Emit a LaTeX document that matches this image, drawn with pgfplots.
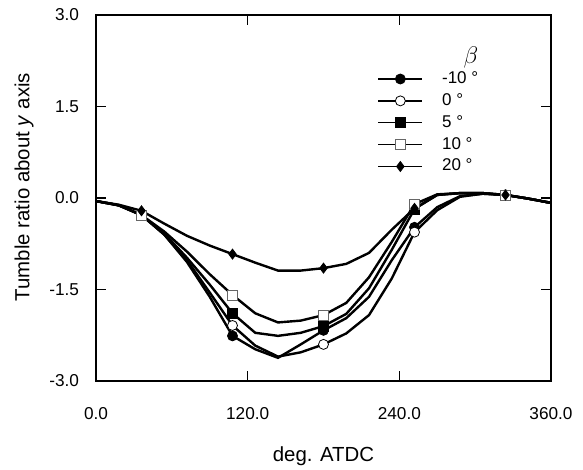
\documentclass[border=0pt]{standalone}
\usepackage{pgfplots}
\usepackage{pgfplotstable}
\pgfplotsset{compat=1.18}
\usepackage{fontspec}
\setmainfont{Liberation Sans}

\pgfplotstableread{
x    m10    z0     p5     p10    p20
0    -0.05  -0.05  -0.05  -0.05  -0.05
18   -0.12  -0.12  -0.12  -0.12  -0.11
36   -0.28  -0.28  -0.28  -0.28  -0.21
54   -0.60  -0.60  -0.58  -0.55  -0.42
72   -1.05  -1.02  -0.98  -0.88  -0.62
90   -1.62  -1.55  -1.42  -1.25  -0.78
108  -2.26  -2.09  -1.89  -1.59  -0.92
126  -2.48  -2.42  -2.21  -1.89  -1.06
144  -2.62  -2.60  -2.26  -2.04  -1.19
162  -2.40  -2.53  -2.21  -2.01  -1.19
180  -2.17  -2.40  -2.10  -1.92  -1.15
198  -1.97  -2.22  -1.90  -1.72  -1.08
216  -1.62  -1.92  -1.48  -1.30  -0.90
234  -1.02  -1.32  -0.85  -0.72  -0.52
252  -0.48  -0.56  -0.18  -0.10  -0.17
270  -0.15  -0.20  0.05   0.06   0.05
288  0.03   0.02   0.08   0.08   0.08
306  0.07   0.07   0.08   0.08   0.08
324  0.05   0.05   0.05   0.05   0.05
342  -0.01  -0.01  -0.01  -0.01  -0.01
360  -0.08  -0.08  -0.08  -0.08  -0.08
}\data

\begin{document}
\begin{tikzpicture}
\path[use as bounding box] (-48pt,-44.5pt) rectangle (243.5pt,190.5pt);
\begin{axis}[
  scale only axis, width=227.5pt, height=183pt,
  xmin=0, xmax=360, ymin=-3, ymax=3,
  xtick={0,120,240,360}, ytick={-3,-1.5,0,1.5,3},
  tick align=inside, major tick length=5pt,
  axis line style={line width=0.6pt},
  every tick/.style={line width=0.6pt, black},
  /pgf/number format/fixed,
  /pgf/number format/fixed zerofill,
  /pgf/number format/precision=1,
  /pgf/number format/assume math mode=true,
  tick label style={font=\fontsize{8.6}{10}\selectfont},
  xticklabel style={yshift=-9.75pt},
  yticklabel style={xshift=-5pt},
  xlabel={deg. ATDC},
  ylabel={Tumble ratio about \textit{y} axis},
  label style={font=\fontsize{10.2}{12}\selectfont},
  xlabel style={at={(axis description cs:0.5,-0.205)}, anchor=center},
  ylabel style={at={(axis description cs:-0.158,0.53)}, anchor=center},
  legend style={draw=none, fill=none, inner sep=0pt, at={(axis description cs:0.618,0.852)},
    anchor=north west, font=\fontsize{8.5}{10}\selectfont, row sep=1.5pt,
    nodes={inner sep=1pt}},
  legend cell align=left,
  legend image code/.code={\draw[#1,mark repeat=2,mark phase=2,line width=0.75pt] plot coordinates {(0pt,0pt) (11pt,0pt) (22pt,0pt)};},
  every axis plot/.append style={line width=1.2pt, black, mark repeat=4, mark phase=3, mark size=2.5pt},
]
\addplot[mark=*, mark options={solid, fill=black, draw=black, line width=0.4pt}] table[x=x,y=m10] {\data};
\addlegendentry{\hspace{8.5pt}-10 °}
\addplot[mark=*, mark options={solid, fill=white, draw=black, line width=0.4pt}] table[x=x,y=z0] {\data};
\addlegendentry{\hspace{8.5pt}0 °}
\addplot[mark=square*, mark options={solid, fill=black, draw=black, line width=0.4pt}] table[x=x,y=p5] {\data};
\addlegendentry{\hspace{8.5pt}5 °}
\addplot[mark=square*, mark options={solid, fill=white, draw=black!60, line width=0.4pt}] table[x=x,y=p10] {\data};
\addlegendentry{\hspace{8.5pt}10 °}
\addplot[mark=diamond*, mark options={solid, fill=black, draw=black, line width=0.4pt}] table[x=x,y=p20] {\data};
\addlegendentry{\hspace{8.5pt}20 °}
\node[font=\fontsize{11.5}{12}\selectfont, inner sep=0pt] at (axis description cs:0.824,0.885) {$\beta$};
\end{axis}
\end{tikzpicture}
\end{document}
